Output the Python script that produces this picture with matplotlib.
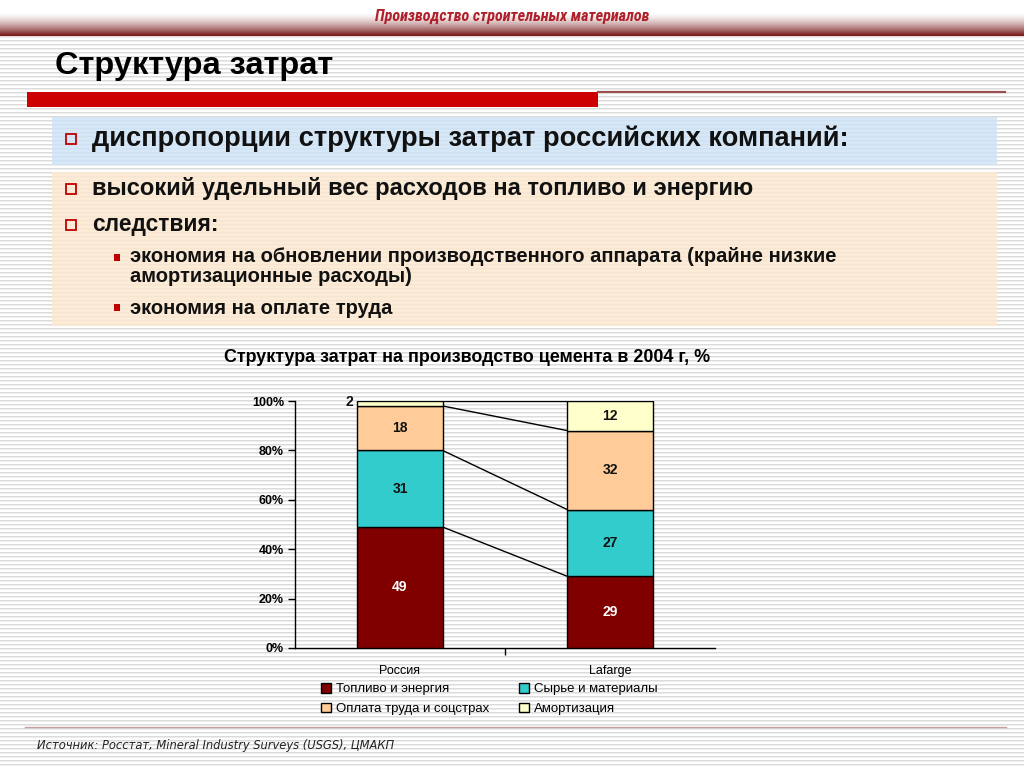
import numpy as np
import matplotlib
matplotlib.use("Agg")
import matplotlib.pyplot as plt
from matplotlib import font_manager
from matplotlib.font_manager import FontProperties
from matplotlib.patches import Rectangle

# ---------------- data ----------------
categories = ["Россия", "Lafarge"]
series_names = ["Топливо и энергия", "Сырье и материалы", "Оплата труда и соцстрах", "Амортизация"]
fuel = [49, 29]
raw = [31, 27]
labor = [18, 32]
amort = [2, 12]
yticks = [0, 20, 40, 60, 80, 100]
ytick_labels = ["0%", "20%", "40%", "60%", "80%", "100%"]

header_text = "Производство строительных материалов"
title_text = "Структура затрат"
bullet1 = "диспропорции структуры затрат российских компаний:"
bullet2 = "высокий удельный вес расходов на топливо и энергию"
bullet3 = "следствия:"
sub1a = "экономия на обновлении производственного аппарата (крайне низкие"
sub1b = "амортизационные расходы)"
sub2 = "экономия на оплате труда"
chart_title = "Структура затрат на производство цемента в 2004 г, %"
source_text = "Источник: Росстат, Mineral Industry Surveys (USGS), ЦМАКП"

colors = ["#800000", "#33CCCC", "#FFCC99", "#FFFFCC"]

# ---------------- fonts ----------------
ARIAL = "Liberation Sans"


def _wnum(w):
    if isinstance(w, (int, float)):
        return w
    return {"bold": 700, "heavy": 800, "black": 900, "semibold": 600, "demibold": 600}.get(str(w), 400)


def find_condensed(italic=False):
    cands = []
    for f in font_manager.fontManager.ttflist:
        nm = f.name.lower()
        fn = f.fname.lower()
        cond = ("narrow" in nm or "condensed" in nm or "narrow" in fn or "condensed" in fn
                or str(f.stretch) in ("condensed", "semi-condensed", "extra-condensed"))
        if not cond:
            continue
        if _wnum(f.weight) < 600 and "bold" not in fn:
            continue
        is_it = f.style in ("italic", "oblique") or "italic" in fn or "oblique" in fn
        if is_it != italic:
            continue
        pri = 0 if "liberation" in nm else (1 if "roboto" in nm else (2 if "dejavu" in nm else 3))
        cands.append((pri, f.fname))
    cands.sort()
    return cands[0][1] if cands else None


cond_bi = find_condensed(True)

W, H = 1024, 767
fig = plt.figure(figsize=(W / 100, H / 100), dpi=100)

# ---------------- background ----------------
bg = fig.add_axes([0, 0, 1, 1], zorder=0)
bg.set_xlim(0, W)
bg.set_ylim(H, 0)
bg.axis("off")

img = np.ones((H, W, 3))
rows = np.arange(H)
img[(rows % 4 == 0) & (rows >= 37)] = 0.86
img[(rows % 4 == 1) & (rows >= 37)] = 0.93
dark = np.array([0.47, 0.10, 0.10])
for y in range(0, 36):
    t = 0.0 if y < 12 else ((y - 12) / 23.0) ** 1.5
    img[y] = (1 - t) * np.array([1.0, 1.0, 1.0]) + t * dark
img[36] = np.array([0.95, 0.85, 0.85])
bg.imshow(img, extent=(0, W, H, 0), aspect="auto", interpolation="nearest", zorder=0)

renderer = fig.canvas.get_renderer()


def fit_text(x, y, s, target_w, size, prop=None, factor=1.0, **kw):
    if prop is not None:
        prop = prop.copy()
        prop.set_size(size)
        t = bg.text(x, y, s, fontproperties=prop, zorder=5, **kw)
    else:
        t = bg.text(x, y, s, fontsize=size, zorder=5, **kw)
    w = t.get_window_extent(renderer).width
    t.set_fontsize(size * target_w / w * factor)
    return t


pb = FontProperties(family=ARIAL, weight="bold")
if cond_bi:
    pbi, fbi = FontProperties(fname=cond_bi), 0.86
else:
    pbi, fbi = FontProperties(family=ARIAL, weight="bold", style="italic"), 1.0

# header
fit_text(512, 16, header_text, 320, 11, prop=pbi, factor=fbi, ha="center", va="center",
         color="#b0202a")

# title
fit_text(55, 66, title_text, 265, 18, prop=pb, factor=1.05, ha="left", va="center", color="black")

# red bar and line
bg.add_patch(Rectangle((27, 92), 571, 15, facecolor="#cc0000", edgecolor="none", zorder=3))
bg.plot([598, 1005], [91.5, 91.5], color="#9a5050", lw=1.6, zorder=3)

# boxes
bg.add_patch(Rectangle((52, 117), 945, 48, facecolor="#cfe3f7", edgecolor="none", alpha=0.85, zorder=2))
bg.add_patch(Rectangle((52, 172), 945, 154, facecolor="#fce8d0", edgecolor="none", alpha=0.85, zorder=2))

# bullets (hollow squares)
for yb in [139, 189, 225]:
    bg.add_patch(Rectangle((66, yb - 5), 10, 10, facecolor="none", edgecolor="#c00000", lw=1.3, zorder=4))
fit_text(92, 139, bullet1, 736, 14, prop=pb, factor=1.03, ha="left", va="center", color="#111111")
fit_text(92, 189, bullet2, 643, 14, prop=pb, factor=1.03, ha="left", va="center", color="#111111")
fit_text(92, 225, bullet3, 123, 14, prop=pb, factor=1.03, ha="left", va="center", color="#111111")

# sub-bullets (filled squares)
for yb in [257, 307]:
    bg.add_patch(Rectangle((114, yb - 3.5), 6, 7, facecolor="#c00000", edgecolor="none", zorder=4))
t1 = fit_text(130, 257, sub1a, 710, 11, prop=pb, factor=1.0, ha="left", va="center", color="#111111")
s_sub = t1.get_fontsize()
p2 = pb.copy(); p2.set_size(s_sub)
bg.text(130, 277, sub1b, fontproperties=p2, ha="left", va="center", color="#111111", zorder=5)
p3 = pb.copy(); p3.set_size(s_sub)
bg.text(130, 308, sub2, fontproperties=p3, ha="left", va="center", color="#111111", zorder=5)

# chart title
fit_text(467, 357, chart_title, 486, 11, ha="center", va="center", family=ARIAL, weight="bold", color="black")

# bottom line and source
bg.plot([25, 1006], [727, 727], color="#c8a0a0", lw=1.0, zorder=3)
fit_text(37, 746, source_text, 360, 8, ha="left", va="center", family="DejaVu Sans",
         style="italic", color="#222222")

# ---------------- chart ----------------
left, right, top, bottom = 295, 715, 401, 648
ax = fig.add_axes([left / W, 1 - bottom / H, (right - left) / W, (bottom - top) / H], zorder=2)
ax.patch.set_visible(False)

x = np.arange(len(categories))
bw = 0.405
series = [fuel, raw, labor, amort]
base = np.zeros(len(categories))
tops = []
bars_all = []
for vals, col, name in zip(series, colors, series_names):
    bars = ax.bar(x, vals, bw, bottom=base, color=col, edgecolor="black", linewidth=1.0,
                  label=name, zorder=3)
    bars_all.append(bars)
    base = base + np.array(vals)
    tops.append(base.copy())

# connector lines
for tp in tops:
    ax.plot([x[0] + bw / 2, x[1] - bw / 2], [tp[0], tp[1]], color="black", lw=1.0, zorder=2)

# value labels
base = np.zeros(len(categories))
for si, vals in enumerate(series):
    for ci, v in enumerate(vals):
        if v >= 5:
            ax.text(x[ci], base[ci] + v / 2, str(v), ha="center", va="center", fontsize=10,
                    fontweight="bold", family=ARIAL,
                    color="white" if si == 0 else "#111111", zorder=4)
        else:
            ax.text(x[ci] - bw / 2 - 0.02, base[ci] + v / 2 + 0.5, str(v), ha="right", va="center",
                    fontsize=10, fontweight="bold", family=ARIAL, color="#111111", zorder=4)
    base = base + np.array(vals)

ax.set_xlim(-0.5, 1.5)
ax.set_ylim(0, 100)
ax.set_yticks(yticks)
ax.set_yticklabels(ytick_labels, fontsize=9, fontweight="bold", family=ARIAL)
ax.set_xticks(x)
ax.set_xticklabels(categories, fontsize=9, family=ARIAL)
ax.tick_params(axis="x", length=0, pad=12)
ax.set_xticks([0.5], minor=True)
ax.tick_params(axis="x", which="minor", length=5, width=1, direction="out")
ax.tick_params(axis="y", length=5, width=1, direction="out", pad=3)
for s in ["top", "right"]:
    ax.spines[s].set_visible(False)
for s in ["left", "bottom"]:
    ax.spines[s].set_linewidth(1.0)

handles = [bars_all[0], bars_all[2], bars_all[1], bars_all[3]]
labels = [series_names[0], series_names[2], series_names[1], series_names[3]]
leg = ax.legend(handles, labels, ncol=2, loc="upper left",
                bbox_to_anchor=(321 / W, 1 - 683 / H), bbox_transform=fig.transFigure,
                frameon=False, prop={"family": ARIAL, "size": 9.5},
                handlelength=0.75, handleheight=0.75, handletextpad=0.35,
                columnspacing=2.3, labelspacing=0.55, borderpad=0, borderaxespad=0)

fig.savefig("out.png", dpi=100)
